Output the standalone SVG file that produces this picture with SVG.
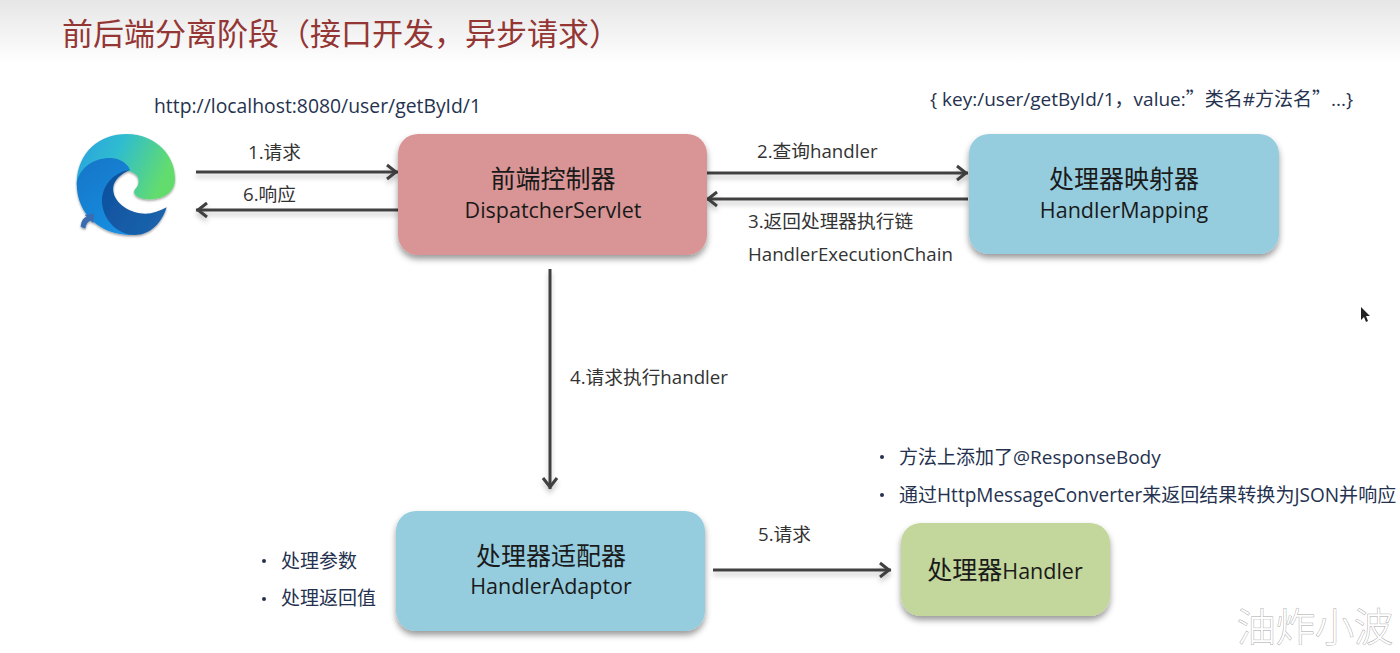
<svg xmlns="http://www.w3.org/2000/svg" width="1400" height="653" viewBox="0 0 1400 653">
<style>
text{font-family:"Open Sans","Noto Sans CJK SC",sans-serif;fill:#2b2b2b}
.f{font-family:"Noto Sans CJK SC",sans-serif}
.cn{font-size:25px;fill:#1a1a1a;text-anchor:middle;font-family:"Noto Sans CJK SC",sans-serif}
.la{font-family:"Open Sans",sans-serif;font-size:21.5px}
.en{font-size:21.5px;fill:#1a1a1a;text-anchor:middle}
.lb{font-size:18.7px;fill:#333}
.nt{font-size:19px;fill:#25324f}
.dot{fill:#25324f}
.node{filter:url(#sh)}
.c line{stroke:#404040;stroke-width:3;fill:none;marker-end:url(#ah);filter:url(#ls)}
</style>
<defs>
<linearGradient id="bg" x1="0" y1="0" x2="0" y2="1"><stop offset="0" stop-color="#e6e6e6"/><stop offset="1" stop-color="#fff"/></linearGradient>
<linearGradient id="eTop" x1="0" y1="0" x2="1" y2="0.3"><stop offset="0" stop-color="#2a9fe0"/><stop offset=".45" stop-color="#2fbcd0"/><stop offset="1" stop-color="#63dc6e"/></linearGradient>
<linearGradient id="eMid" x1="0" y1="0" x2="0.6" y2="1"><stop offset="0" stop-color="#1174c6"/><stop offset="1" stop-color="#1a8ee0"/></linearGradient>
<linearGradient id="eDark" x1="0" y1="0" x2="1" y2="0.6"><stop offset="0" stop-color="#0c4f9c"/><stop offset="1" stop-color="#1b63ac"/></linearGradient>
<filter id="sh" x="-10%" y="-10%" width="120%" height="125%"><feDropShadow dx="0" dy="4" stdDeviation="3" flood-color="#000" flood-opacity=".4"/></filter>
<filter id="ls" x="0" y="0" width="1400" height="653" filterUnits="userSpaceOnUse"><feDropShadow dx="0" dy="4" stdDeviation="2.5" flood-color="#000" flood-opacity=".22"/></filter>
<marker id="ah" viewBox="0 0 14 18" markerUnits="userSpaceOnUse" markerWidth="14" markerHeight="18" refX="13" refY="9" orient="auto"><path d="M2,2 L11,9 L2,16" fill="none" stroke="#404040" stroke-width="3"/></marker>
</defs>
<rect width="1400" height="653" fill="#fff"/>
<rect width="1400" height="64" fill="url(#bg)"/>
<text class="f" x="62" y="45" font-size="31" style="fill:#943634">前后端分离阶段（接口开发，异步请求）</text>

<g id="browser" transform="translate(60 120) scale(.3333)" filter="url(#sh)">
<path fill="url(#eTop)" d="M50,190 C52,95 120,42 200,42 C290,42 348,110 345,180 C343,225 300,240 260,238 C232,236 215,222 225,208 C240,195 240,170 222,160 C180,135 100,150 50,190Z"/>
<path fill="url(#eMid)" d="M50,190 C60,135 115,110 160,115 C185,118 205,135 210,150 C170,155 135,190 130,240 C128,290 170,335 225,345 C130,350 50,290 50,190Z"/>
<path fill="url(#eDark)" d="M210,150 C170,152 128,190 126,240 C125,295 170,345 225,345 C270,345 305,310 320,262 C295,275 270,285 240,280 C195,272 155,240 160,200 C163,180 185,160 210,150Z"/>
<path fill="#3b6cb0" d="M62,320 C64,300 72,292 80,290 L74,284 L102,282 L100,310 L92,302 C84,304 78,312 76,326 Z"/>
</g>

<g class="c" id="connectors">
<line x1="196" y1="172" x2="398" y2="172"/>
<line x1="398" y1="210" x2="196" y2="210"/>
<line x1="705" y1="173" x2="968" y2="173"/>
<line x1="968" y1="199" x2="706" y2="199"/>
<line x1="550" y1="269" x2="550" y2="489"/>
<line x1="713" y1="570" x2="891" y2="570"/>
</g>

<g id="dispatcher"><rect class="node" x="398" y="134" width="309" height="121" rx="20" fill="#d99595"/>
<text class="cn" x="553" y="188">前端控制器</text><text class="en" x="553" y="218">DispatcherServlet</text></g>
<g id="mapping"><rect class="node" x="969" y="134" width="310" height="120" rx="20" fill="#95cddf"/>
<text class="cn" x="1124" y="188">处理器映射器</text><text class="en" x="1124" y="218">HandlerMapping</text></g>
<g id="adaptor"><rect class="node" x="396" y="511" width="309" height="120" rx="20" fill="#95cddf"/>
<text class="cn" x="551" y="565">处理器适配器</text><text class="en" x="551" y="594">HandlerAdaptor</text></g>
<g id="handler"><rect class="node" x="901" y="523" width="209" height="93" rx="20" fill="#c3d69b"/>
<text class="cn" x="1005" y="579">处理器<tspan class="la">Handler</tspan></text></g>

<text class="nt" x="154" y="113" style="font-size:19.35px">http://localhost:8080/user/getById/1</text>
<text class="nt" x="930" y="106">{ key:/user/getById/1，value:<tspan class="f">”</tspan>类名#方法名<tspan class="f">”</tspan>...}</text>
<text class="lb" x="248" y="159">1.请求</text>
<text class="lb" x="243" y="201">6.响应</text>
<text class="lb" x="757" y="158">2.查询handler</text>
<text class="lb" x="748" y="228">3.返回处理器执行链</text>
<text class="lb" x="748" y="261">HandlerExecutionChain</text>
<text class="lb" x="570" y="384">4.请求执行handler</text>
<text class="lb" x="758" y="541">5.请求</text>

<circle class="dot" cx="264" cy="561" r="2"/><text class="nt" x="281" y="568">处理参数</text>
<circle class="dot" cx="264" cy="599" r="2"/><text class="nt" x="281" y="605">处理返回值</text>
<circle class="dot" cx="882" cy="457" r="2"/><text class="nt" x="899" y="464">方法上添加了@ResponseBody</text>
<circle class="dot" cx="882" cy="495" r="2"/><text class="nt" x="899" y="502" style="font-size:19.05px">通过HttpMessageConverter来返回结果转换为JSON并响应</text>

<path d="M1361,307 L1361,320 L1364,317 L1366,322 L1368,321 L1366,316 L1370,316 Z" fill="#222"/>
<text class="f" x="1237" y="641" font-size="39" font-weight="300" style="fill:#fff;stroke:#a8a8a8;stroke-width:.9px;paint-order:stroke">油炸小波</text>
</svg>
